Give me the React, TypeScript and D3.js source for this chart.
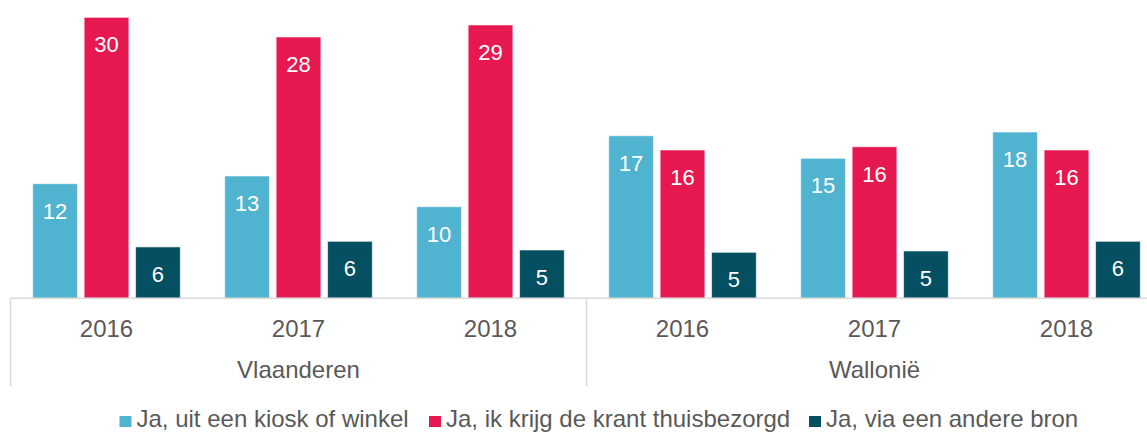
import * as React from 'react'
import {scaleBand, scaleLinear} from 'd3'

// categories
const regions = ['Vlaanderen', 'Wallonië']
const years = ['2016', '2017', '2018']

// series (share in %, labels shown rounded)
const seriesNames = [
  'Ja, uit een kiosk of winkel',
  'Ja, ik krijg de krant thuisbezorgd',
  'Ja, via een andere bron',
]
const kiosk = [12.31, 13.14, 9.84, 17.46, 15.04, 17.86]
const thuis = [30.18, 28.07, 29.36, 15.93, 16.28, 15.93]
const andere = [5.52, 6.12, 5.19, 4.94, 5.08, 6.12]

const colors = ['#50b3cf', '#e5184f', '#054f62']
const W = 1147
const H = 432
const font = '"Liberation Sans", Arial, sans-serif'
const textColor = '#595959'
const gridColor = '#d9d9d9'

export default function App() {
  const series = [kiosk, thuis, andere]
  const cats = regions.flatMap(r => years.map(y => `${r}|${y}`))

  const baseY = 298.3
  const x = scaleBand().domain(cats).range([10.5, 1162.5]).paddingInner(0).paddingOuter(0)
  const inner = scaleBand().domain(seriesNames).range([22.2, x.bandwidth() - 22.2]).paddingInner(0.13)
  const y = scaleLinear().domain([0, 32]).range([baseY, baseY - 32 * 9.31])

  const regionX = scaleBand().domain(regions).range([10.5, 1162.5])

  // legend positions (Excel layout)
  const legendX = [119.5, 429, 809]

  return (
    <svg width={W} height={H} style={{position: 'absolute', left: 0, top: 0}} fontFamily={font}>
      {cats.map((c, i) => (
        <g key={c} transform={`translate(${x(c)},0)`}>
          {series.map((s, j) => {
            const bx = inner(seriesNames[j])
            const top = y(s[i])
            return (
              <g key={j}>
                <rect x={bx} y={top} width={inner.bandwidth()} height={baseY - top}
                  fill={colors[j]} stroke="#ffffff" strokeOpacity={0.6} strokeWidth={1} />
                <text x={bx + inner.bandwidth() / 2} y={top + 35} textAnchor="middle"
                  fill="#ffffff" fontSize={22}>{Math.round(s[i])}</text>
              </g>
            )
          })}
          <text x={x.bandwidth() / 2} y={337} textAnchor="middle" fill={textColor} fontSize={24}>
            {c.split('|')[1]}
          </text>
        </g>
      ))}

      <line x1={10.5} x2={W} y1={baseY} y2={baseY} stroke={gridColor} strokeWidth={1.5} />
      {regions.map(r => (
        <g key={r}>
          <line x1={regionX(r)} x2={regionX(r)} y1={baseY} y2={386} stroke={gridColor} strokeWidth={1.5} />
          <text x={regionX(r) + regionX.bandwidth() / 2} y={378} textAnchor="middle" fill={textColor} fontSize={24}>
            {r}
          </text>
        </g>
      ))}

      {seriesNames.map((n, j) => (
        <g key={n} transform={`translate(${legendX[j]},0)`}>
          <rect x={0} y={416} width={12} height={11} fill={colors[j]} />
          <text x={17} y={426.5} fill={textColor} fontSize={24}>{n}</text>
        </g>
      ))}
    </svg>
  )
}
